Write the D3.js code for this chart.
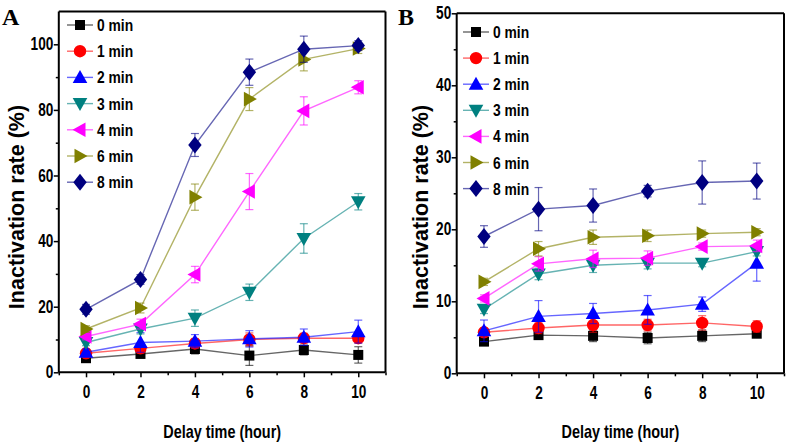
<!DOCTYPE html>
<html>
<head>
<meta charset="utf-8">
<script src="https://cdn.jsdelivr.net/npm/d3@7"></script>
<style>
  body { margin: 0; background: #fff; }
  svg { display: block; }
  .sans { font-family: "Liberation Sans", Arial, sans-serif; font-weight: bold; }
  .serif { font-family: "Liberation Serif", "Times New Roman", serif; font-weight: bold; }
</style>
</head>
<body>
<svg id="chart" width="787" height="447"></svg>
<script>
// ---------- data ----------
const delayHours = [0, 2, 4, 6, 8, 10];
const xTicks = [0, 2, 4, 6, 8, 10];
const seriesNames = ["0 min", "1 min", "2 min", "3 min", "4 min", "6 min", "8 min"];
const seriesColors = ["#000000", "#ff0000", "#0000ff", "#008080", "#ff00ff", "#808000", "#000080"];
const seriesSymbols = ["square", "circle", "up", "down", "left", "right", "diamond"];

// Panel A: means
const a0min = [4.3, 5.6, 7.1, 5.1, 6.8, 5.3];
const a1min = [5.8, 7.3, 8.8, 10.0, 10.4, 10.4];
const a2min = [6.1, 9.1, 9.5, 10.2, 10.7, 12.4];
const a3min = [9.1, 13.2, 16.5, 24.4, 40.8, 52.0];
const a4min = [10.9, 14.7, 29.8, 55.1, 79.7, 86.9];
const a6min = [13.2, 19.6, 53.4, 83.3, 95.4, 98.7];
const a8min = [19.2, 28.3, 69.3, 91.5, 98.5, 99.6];
// Panel A: error bars
const a0err = [1.0, 1.0, 1.5, 3.0, 1.5, 2.5];
const a1err = [1.0, 1.5, 1.5, 2.0, 1.5, 1.5];
const a2err = [1.0, 3.0, 2.0, 2.5, 2.5, 3.5];
const a3err = [1.0, 1.5, 2.5, 2.5, 4.5, 2.5];
const a4err = [1.0, 1.5, 2.5, 5.5, 4.3, 2.0];
const a6err = [1.0, 1.5, 4.0, 3.5, 3.5, 1.5];
const a8err = [1.5, 1.5, 3.5, 4.0, 4.0, 1.5];

// Panel B: means
const b0min = [4.4, 5.3, 5.2, 4.9, 5.2, 5.5];
const b1min = [5.7, 6.3, 6.7, 6.7, 7.0, 6.5];
const b2min = [5.9, 7.9, 8.3, 8.8, 9.6, 15.3];
const b3min = [8.9, 13.8, 15.0, 15.3, 15.3, 16.9];
const b4min = [10.4, 15.2, 15.9, 16.0, 17.6, 17.7];
const b6min = [12.7, 17.3, 18.9, 19.1, 19.4, 19.6];
const b8min = [19.0, 22.8, 23.3, 25.3, 26.5, 26.7];
// Panel B: error bars
const b0err = [0.5, 0.5, 0.8, 0.8, 0.8, 0.5];
const b1err = [0.6, 0.8, 1.0, 0.8, 1.0, 0.8];
const b2err = [1.5, 2.2, 1.4, 2.0, 1.0, 2.5];
const b3err = [0.6, 0.8, 1.0, 0.8, 0.5, 0.6];
const b4err = [0.5, 1.0, 1.2, 1.0, 0.5, 0.8];
const b6err = [0.5, 1.0, 1.0, 0.8, 0.5, 0.5];
const b8err = [1.5, 3.0, 2.3, 0.8, 3.0, 2.5];

const aYTicks = [0, 20, 40, 60, 80, 100];
const bYTicks = [0, 10, 20, 30, 40, 50];

const panelAMeans = [a0min, a1min, a2min, a3min, a4min, a6min, a8min];
const panelAErrs = [a0err, a1err, a2err, a3err, a4err, a6err, a8err];
const panelBMeans = [b0min, b1min, b2min, b3min, b4min, b6min, b8min];
const panelBErrs = [b0err, b1err, b2err, b3err, b4err, b6err, b8err];

// ---------- drawing ----------
const svg = d3.select("#chart");
const NARROW = 0.78;

function symbolPath(kind, cx, cy) {
  const p = d3.path();
  if (kind === "square") {
    const s = 5; p.rect(cx - s, cy - s, 2 * s, 2 * s);
  } else if (kind === "circle") {
    p.arc(cx, cy, 6.2, 0, 2 * Math.PI);
  } else if (kind === "up") {
    p.moveTo(cx, cy - 7.5); p.lineTo(cx + 7.3, cy + 5.5); p.lineTo(cx - 7.3, cy + 5.5); p.closePath();
  } else if (kind === "down") {
    p.moveTo(cx, cy + 7.5); p.lineTo(cx + 7.3, cy - 5.5); p.lineTo(cx - 7.3, cy - 5.5); p.closePath();
  } else if (kind === "left") {
    p.moveTo(cx - 7.5, cy); p.lineTo(cx + 5.5, cy - 7.3); p.lineTo(cx + 5.5, cy + 7.3); p.closePath();
  } else if (kind === "right") {
    p.moveTo(cx + 7.5, cy); p.lineTo(cx - 5.5, cy - 7.3); p.lineTo(cx - 5.5, cy + 7.3); p.closePath();
  } else if (kind === "diamond") {
    p.moveTo(cx, cy - 8.5); p.lineTo(cx + 6.7, cy); p.lineTo(cx, cy + 8.5); p.lineTo(cx - 6.7, cy); p.closePath();
  }
  return p.toString();
}

function drawPanel(opt) {
  const x = d3.scaleLinear().domain([-1, 11]).range(opt.xRange);
  const y = d3.scaleLinear().domain([0, opt.yMax]).range(opt.yRange);
  const g = svg.append("g");

  const xAxis = d3.axisBottom(x).tickValues(xTicks).tickSize(5).tickPadding(8).tickFormat(d3.format("d"));
  const xMinor = d3.axisBottom(x).tickValues(d3.range(-1, 12, 1).filter(v => v % 2 !== 0)).tickSize(3).tickFormat("");
  const yAxis = d3.axisLeft(y).tickValues(opt.yTicks).tickSize(5).tickPadding(2).tickFormat(d3.format("d"));
  const yMinor = d3.axisLeft(y).tickValues(opt.yMinor).tickSize(3).tickFormat("");

  const gx = g.append("g").attr("transform", `translate(0,${opt.yRange[0]})`).call(xAxis);
  g.append("g").attr("transform", `translate(0,${opt.yRange[0]})`).call(xMinor).select(".domain").remove();
  const gy = g.append("g").attr("transform", `translate(${opt.xRange[0]},0)`).call(yAxis);
  g.append("g").attr("transform", `translate(${opt.xRange[0]},0)`).call(yMinor).select(".domain").remove();

  [gx, gy].forEach(a => {
    a.select(".domain").attr("stroke-width", 2).attr("stroke", "#000");
    a.selectAll(".tick text").attr("class", "sans").attr("font-size", 17.5).attr("fill", "#000")
      .attr("transform", `scale(${NARROW},1)`);
  });
  g.selectAll(".tick line").attr("stroke", "#000").attr("stroke-width", 1.5);
  gx.select(".domain").attr("d", `M${opt.xRange[0]},0H${opt.xRange[1]}`);
  gy.select(".domain").attr("d", `M0,${opt.yRange[0]}V${opt.yRange[1]}`);

  // top and right frame
  g.append("line").attr("x1", opt.xRange[0]).attr("x2", opt.xRange[1])
    .attr("y1", opt.yRange[1]).attr("y2", opt.yRange[1]).attr("stroke", "#000").attr("stroke-width", 2);
  g.append("line").attr("x1", opt.xRange[1]).attr("x2", opt.xRange[1])
    .attr("y1", opt.yRange[0]).attr("y2", opt.yRange[1]).attr("stroke", "#000").attr("stroke-width", 2);

  // series
  const line = d3.line().x((d, i) => x(delayHours[i])).y(d => y(d));
  opt.means.forEach((vals, si) => {
    const col = seriesColors[si];
    const sg = g.append("g");
    sg.append("path").attr("d", line(vals)).attr("fill", "none")
      .attr("stroke", col).attr("stroke-opacity", 0.6).attr("stroke-width", 1.4);
    vals.forEach((v, i) => {
      const e = opt.errs[si][i];
      const cx = x(delayHours[i]);
      const y1 = y(v + e), y2 = y(v - e);
      sg.append("line").attr("x1", cx).attr("x2", cx).attr("y1", y1).attr("y2", y2)
        .attr("stroke", col).attr("stroke-opacity", 0.6).attr("stroke-width", 1.2);
      [y1, y2].forEach(yy => sg.append("line").attr("x1", cx - 4).attr("x2", cx + 4)
        .attr("y1", yy).attr("y2", yy).attr("stroke", col).attr("stroke-opacity", 0.6).attr("stroke-width", 1.2));
    });
    vals.forEach((v, i) => {
      sg.append("path").attr("d", symbolPath(seriesSymbols[si], x(delayHours[i]), y(v))).attr("fill", col);
    });
  });

  // legend
  seriesNames.forEach((name, si) => {
    const ly = opt.legY + si * opt.legStep;
    const col = seriesColors[si];
    g.append("line").attr("x1", opt.legX - 13).attr("x2", opt.legX + 13).attr("y1", ly).attr("y2", ly)
      .attr("stroke", col).attr("stroke-opacity", 0.6).attr("stroke-width", 1.4);
    g.append("path").attr("d", symbolPath(seriesSymbols[si], opt.legX, ly)).attr("fill", col);
    g.append("text").attr("class", "sans")
      .attr("transform", `translate(${opt.legX + 17},${ly + 6}) scale(0.84,1)`)
      .attr("font-size", 16.5).attr("fill", "#000").text(name);
  });

  // axis titles
  const midX = (x(0) + x(10)) / 2;
  g.append("text").attr("class", "sans")
    .attr("transform", `translate(${midX},438) scale(${NARROW},1)`)
    .attr("text-anchor", "middle").attr("font-size", 18.5).text("Delay time (hour)");
  g.append("text").attr("class", "sans")
    .attr("transform", `translate(${opt.yTitleX},${opt.yTitleY}) rotate(-90)`)
    .attr("text-anchor", "middle").attr("font-size", 21.5).text("Inactivation rate (%)");
  // panel letter
  g.append("text").attr("class", "serif").attr("x", opt.letterX).attr("y", 25)
    .attr("font-size", 24).text(opt.letter);
}

drawPanel({
  xRange: [58.8, 385.5], yRange: [372.3, 11.5], yMax: 110,
  yTicks: aYTicks, yMinor: [10, 30, 50, 70, 90],
  means: panelAMeans, errs: panelAErrs,
  legX: 80, legY: 25, legStep: 26.2,
  yTitleX: 24, yTitleY: 207, letter: "A", letterX: 2
});
drawPanel({
  xRange: [456.7, 784], yRange: [373.3, 13.3], yMax: 50,
  yTicks: bYTicks, yMinor: [5, 15, 25, 35, 45],
  means: panelBMeans, errs: panelBErrs,
  legX: 476, legY: 32, legStep: 26.1,
  yTitleX: 428, yTitleY: 207, letter: "B", letterX: 398
});
</script>
</body>
</html>
